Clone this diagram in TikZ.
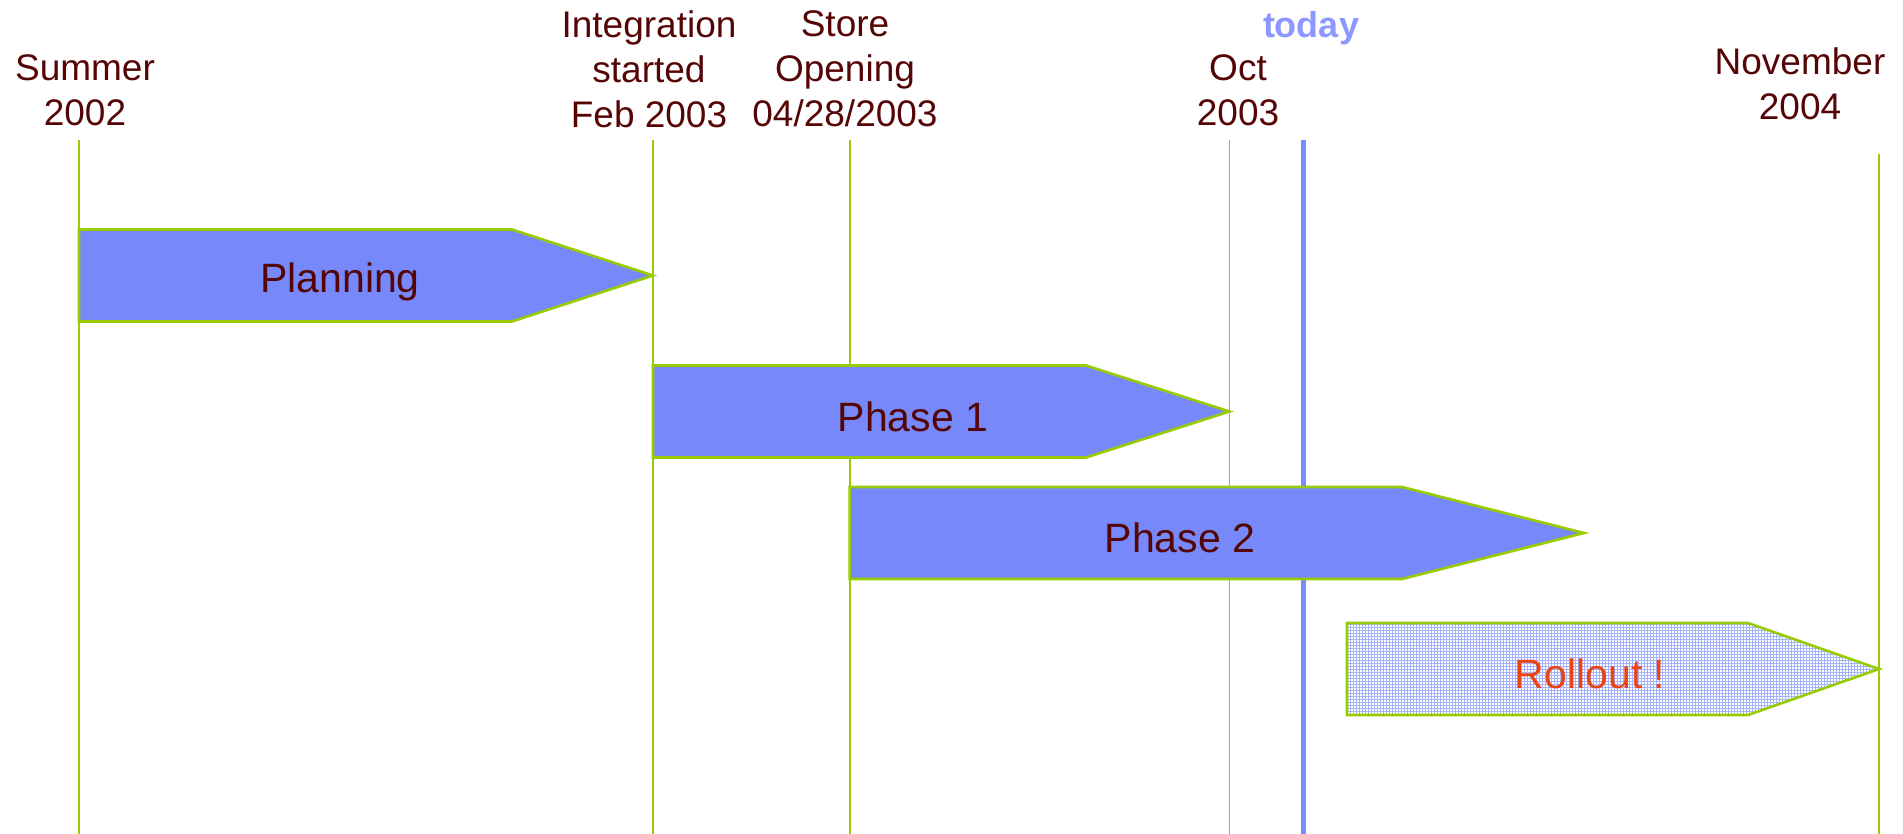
\documentclass[tikz,border=0pt]{standalone}
\usepackage{fontspec}
\setmainfont{Liberation Sans}
\usetikzlibrary{patterns}
\definecolor{labelred}{RGB}{85,5,5}
\definecolor{barblue}{RGB}{119,137,250}
\definecolor{edgegreen}{RGB}{153,204,0}
\definecolor{nowblue}{RGB}{122,140,255}
\definecolor{nowtext}{RGB}{140,152,255}
\definecolor{rollred}{RGB}{232,68,20}
\definecolor{gridblue}{RGB}{165,178,252}
\tikzset{
  milestone/.style={text=labelred, align=center, font=\fontsize{37}{45}\selectfont},
  mline/.style={draw=edgegreen, line width=1.8pt},
  phasebar/.style={fill=barblue, draw=edgegreen, line width=2.6pt, line join=miter},
  bartext/.style={text=labelred, font=\fontsize{41}{49}\selectfont},
}
\begin{document}
\begin{tikzpicture}[x=1pt,y=-1pt]
\useasboundingbox (0,0) rectangle (1903,834);

% milestone labels
\node[milestone] (summer) at (85,90) {Summer\\2002};
\node[milestone] (integ) at (649,69) {Integration\\started\\Feb 2003};
\node[milestone] (store) at (845,69) {Store\\Opening\\04/28/2003};
\node[milestone] (oct) at (1238,90) {Oct\\2003};
\node[milestone] (nov) at (1800,84) {November\\2004};
\node[text=nowtext, font=\bfseries\fontsize{36}{43}\selectfont] (today) at (1311,28) {today};

% milestone lines
\coordinate (s1) at (79,140);   \coordinate (s2) at (79,834);
\coordinate (i1) at (653,140);  \coordinate (i2) at (653,834);
\coordinate (o1) at (849.6,140);\coordinate (o2) at (849.6,834);
\coordinate (c1) at (1229.5,140);\coordinate (c2) at (1229.5,834);
\coordinate (n1) at (1879,154); \coordinate (n2) at (1879,834);
\coordinate (t1) at (1303.5,140);\coordinate (t2) at (1303.5,834);
\draw[mline] (s1) -- (s2);
\draw[mline] (i1) -- (i2);
\draw[mline] (o1) -- (o2);
\draw[mline] (c1) -- (c2);
\draw[mline] (n1) -- (n2);
\draw[nowblue, line width=5.5pt] (t1) -- (t2);

% phase bars
\draw[phasebar] (79,229.5) -- (512,229.5) -- (653,275.5) -- (512,321.5) -- (79,321.5) -- cycle;
\node[bartext] (planning) at (340,282) {Planning};

\draw[phasebar] (653,365.5) -- (1086,365.5) -- (1229.5,411.5) -- (1086,457.5) -- (653,457.5) -- cycle;
\node[bartext] (phase1) at (913,417) {Phase 1};

\draw[phasebar] (849.6,487) -- (1402,487) -- (1584,533) -- (1402,579) -- (849.6,579) -- cycle;
\node[bartext] (phase2) at (1180,538) {Phase 2};

% rollout bar: white ground with a fine blue grid
\fill[white] (1347,623) -- (1748,623) -- (1879,669) -- (1748,715) -- (1347,715) -- cycle;
\fill[pattern=grid, pattern color=gridblue] (1347,623) -- (1748,623) -- (1879,669) -- (1748,715) -- (1347,715) -- cycle;
\draw[draw=edgegreen, line width=2.6pt] (1347,623) -- (1748,623) -- (1879,669) -- (1748,715) -- (1347,715) -- cycle;
\node[bartext, text=rollred] (rollout) at (1590,674) {Rollout !};
\end{tikzpicture}
\end{document}
